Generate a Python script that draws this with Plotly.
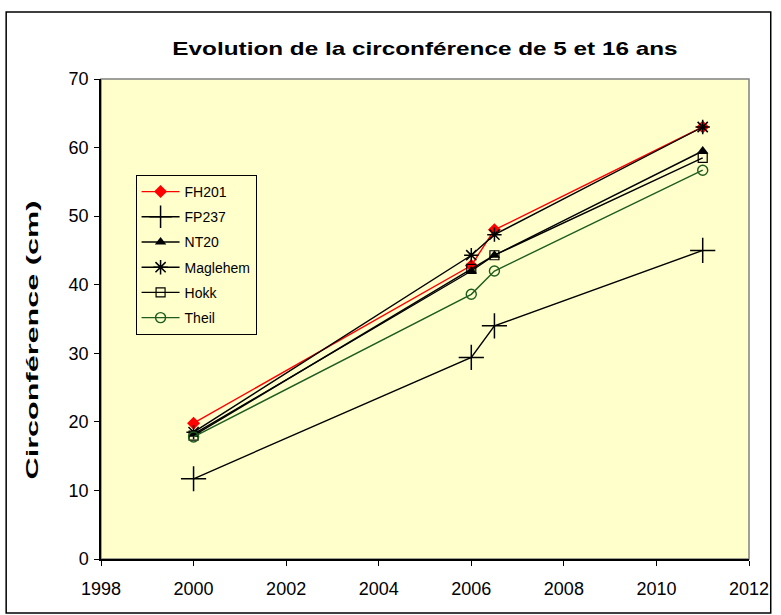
import plotly.graph_objects as go

# Measurement years
years = [2000, 2006, 2006.5, 2011]

# Trunk circumference (cm) per clone
fh201 = [19.8, 42.8, 48.0, 63.0]
fp237 = [11.7, 29.4, 34.0, 45.0]
nt20 = [18.2, 42.0, 44.3, 59.5]
maglehem = [18.5, 44.3, 47.3, 63.0]
hokk = [18.0, 42.3, 44.3, 58.5]
theil = [17.8, 38.6, 42.0, 56.7]

x_ticks = [1998, 2000, 2002, 2004, 2006, 2008, 2010, 2012]
y_ticks = [0, 10, 20, 30, 40, 50, 60, 70]

series = [
    ("FH201", fh201, "#ff0000", dict(symbol="diamond", size=10, color="#ff0000")),
    ("FP237", fp237, "#000000", dict(symbol="cross-thin", size=18,
                                      line=dict(color="#000000", width=1.5))),
    ("NT20", nt20, "#000000", dict(symbol="triangle-up", size=10, color="#000000")),
    ("Maglehem", maglehem, "#000000", dict(symbol="asterisk", size=12,
                                            line=dict(color="#000000", width=1.5))),
    ("Hokk", hokk, "#000000", dict(symbol="square-open", size=9, color="#000000",
                                    line=dict(width=1.2))),
    ("Theil", theil, "#1f5c1f", dict(symbol="circle-open", size=10, color="#1f5c1f",
                                      line=dict(width=1.4))),
]

fig = go.Figure()
for name, vals, col, mk in series:
    fig.add_trace(go.Scatter(
        x=years, y=vals, name=name, mode="lines+markers",
        line=dict(color=col, width=1.4), marker=mk, legendgroup=name,
    ))

W, H = 781, 615
ml, mr, mt, mb = 101, 24, 79, 56
pw, ph = W - ml - mr, H - mt - mb

def px_x(p):
    return (p - ml) / pw

def px_y(p):
    return (H - mb - p) / ph

fig.update_layout(
    width=W, height=H, autosize=False,
    margin=dict(l=ml, r=mr, t=mt, b=mb, pad=0),
    paper_bgcolor="white",
    plot_bgcolor="#ffffcc",
    font=dict(family="Liberation Sans", size=17, color="black"),
    title=dict(text="<b>Evolution de la circonférence de 5 et 16 ans</b>",
               x=0.5, xanchor="center", xref="paper",
               y=1 - 48 / H, yanchor="middle",
               font=dict(size=19, color="black")),
    showlegend=True,
    legend=dict(x=px_x(136), y=px_y(175), xanchor="left", yanchor="top",
                bgcolor="#ffffcc", bordercolor="black", borderwidth=1,
                font=dict(size=14), tracegroupgap=4,
                itemwidth=38),
    xaxis=dict(range=[1998, 2012], tickvals=x_ticks, ticks="outside", ticklen=5,
               tickcolor="black", showgrid=False, zeroline=False,
               showline=True, linecolor="black", linewidth=1.5,
               tickfont=dict(size=18), ticklabelstandoff=8),
    yaxis=dict(range=[0, 70], tickvals=y_ticks, ticks="outside", ticklen=5,
               tickcolor="black", showgrid=False, zeroline=False,
               showline=True, linecolor="black", linewidth=1.5,
               tickfont=dict(size=18), ticklabelstandoff=2,
               title=dict(text="<b>Circonférence (cm)</b>", standoff=26,
                          font=dict(size=17))),
    shapes=[
        # plot-area frame
        dict(type="rect", xref="paper", yref="paper", x0=0, x1=1, y0=0, y1=1,
             line=dict(color="#808080", width=1.5), layer="below"),
        # outer chart frame
        dict(type="rect", xref="paper", yref="paper",
             x0=px_x(5), x1=px_x(779), y0=px_y(613), y1=px_y(12),
             line=dict(color="black", width=1.5)),
    ],
)

# Widen the chart title and the y-axis title along their reading direction
stretch_js = """
var gd = document.getElementById('{plot_id}');
function widen(el, sx, dx) {
    if (!el) return;
    var x = parseFloat(el.getAttribute('x')) || 0;
    var y = parseFloat(el.getAttribute('y')) || 0;
    var base = el.getAttribute('transform') || '';
    el.setAttribute('transform', base + ' translate(' + (x + dx) + ',' + y + ') scale(' + sx + ',1) translate(' + (-x) + ',' + (-y) + ')');
}
widen(gd.querySelector('.gtitle'), 1.28, 0);
widen(gd.querySelector('.ytitle'), 1.8, -21);
"""

fig.write_html("out.html", post_script=stretch_js)
